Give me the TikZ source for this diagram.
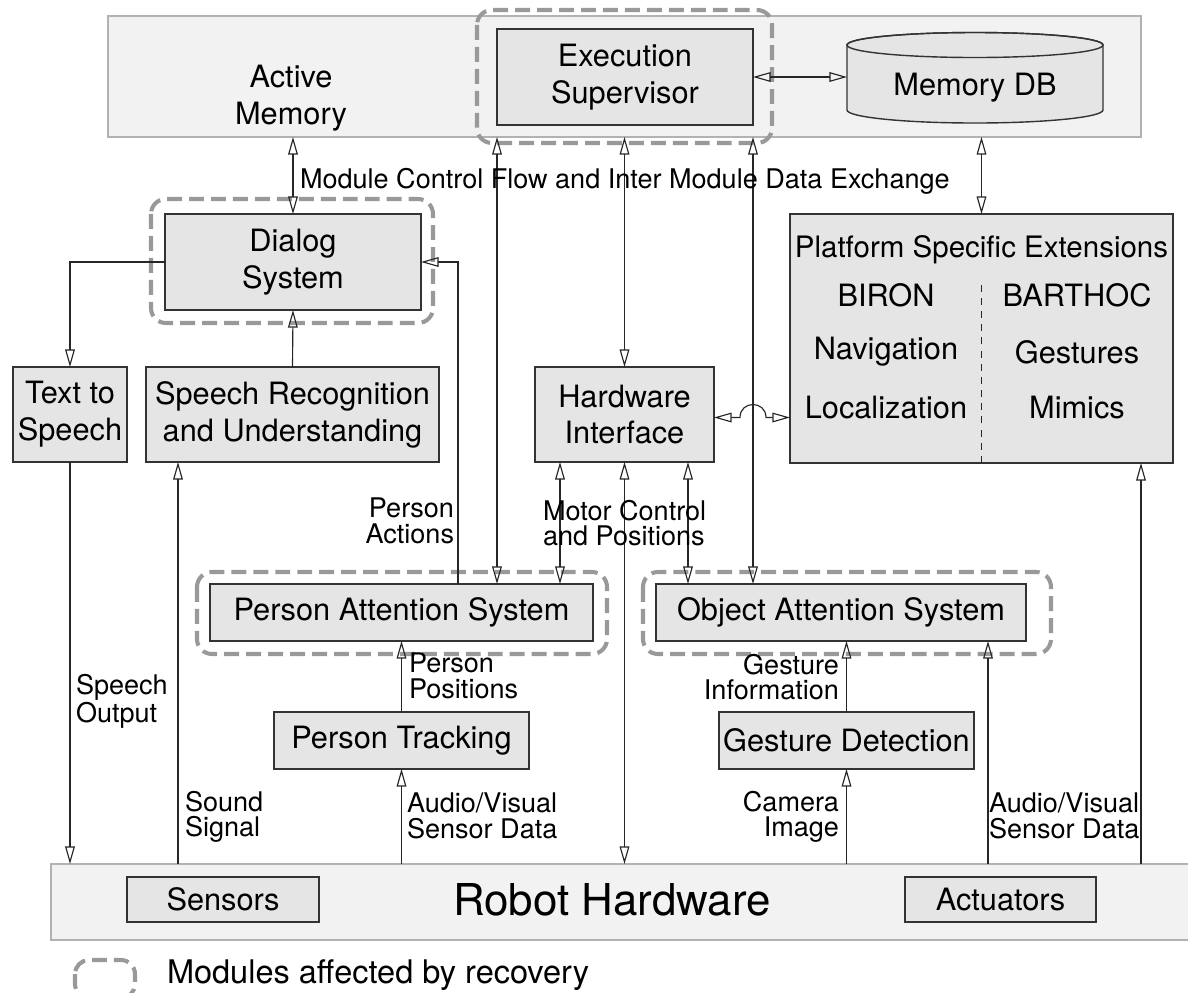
\documentclass[tikz,border=0pt]{standalone}
\usepackage{fontspec}
\setmainfont{TeX Gyre Heros}
\usetikzlibrary{arrows.meta,calc}
\newdimen\pxu \pxu=0.02cm
\newcommand\mainfs{\fontsize{17.5}{21}\selectfont}
\newcommand\titlefs{\fontsize{16.8}{21}\selectfont}
\newcommand\lblfs{\fontsize{15.4}{14.6}\selectfont}
\newcommand\bigfs{\fontsize{25}{30}\selectfont}
\newcommand\legfs{\fontsize{18.5}{22}\selectfont}
\tikzset{
  every node/.style={inner sep=0pt, outer sep=0pt},
  mod/.style={draw=black!80, fill=black!10, line width=0.8pt, align=center, font=\mainfs},
  area/.style={draw=black!30, fill=black!5, line width=0.8pt},
  recov/.style={draw=black!40, line width=2.3pt, dash pattern=on 8.5pt off 4pt, rounded corners=8.5pt},
  conn/.style={draw=black!85, line width=0.65pt},
  lbl/.style={font=\lblfs, align=left},
  txt/.style={font=\mainfs, align=center},
  >={Triangle[open, length=10pt, width=5.5pt]}
}
\begin{document}
\begin{tikzpicture}[x=0.02cm, y=-0.02cm]
\useasboundingbox (0,0) rectangle (1188,992);

% Active memory area
\node[area, minimum width=1033\pxu, minimum height=121\pxu] (top) at (624.5,76.5) {};
\node[txt] (amem) at (291,98) {Active\\Memory};

% recovery frames
\draw[recov] (477,10) rectangle (772,143);
\draw[recov] (151,199) rectangle (433,323);
\draw[recov] (197,572) rectangle (607,654);
\draw[recov] (643,572) rectangle (1051,654);

% modules
\node[mod, minimum width=256\pxu, minimum height=96\pxu] (exec) at (625,77) {Execution\\Supervisor};

% memory database cylinder
\filldraw[draw=black!80, fill=black!10, line width=0.8pt]
  (847,45) -- (847,110)
  arc[start angle=180, end angle=360, x radius=128\pxu, y radius=13\pxu]
  -- (1103,45)
  arc[start angle=0, end angle=180, x radius=128\pxu, y radius=12.5\pxu] -- cycle;
\draw[draw=black!80, line width=0.8pt] (975,45) ellipse[x radius=128\pxu, y radius=12.5\pxu];
\node[font=\mainfs, minimum width=256\pxu, minimum height=80\pxu] (mdb) at (975,88) {Memory DB};

\node[mod, minimum width=256\pxu, minimum height=96\pxu] (dialog) at (293,262) {Dialog\\System};
\node[mod, minimum width=114\pxu, minimum height=95\pxu] (tts) at (70,414.5) {Text to\\Speech};
\node[mod, minimum width=293\pxu, minimum height=95\pxu] (srec) at (292.5,414.5) {Speech Recognition\\and Understanding};
\node[mod, minimum width=179\pxu, minimum height=95\pxu] (hwif) at (624.5,414.5) {Hardware\\Interface};

% platform specific extensions
\node[mod, minimum width=383\pxu, minimum height=249\pxu] (plat) at (981.5,338.5) {};
\node[font=\titlefs] at (981.5,250) {Platform Specific Extensions};
\node[txt] at (886,295) {BIRON};
\node[txt] at (1077,295) {BARTHOC};
\node[txt] at (886,352) {Navigation};
\node[txt] at (1077,352) {Gestures};
\node[txt] at (886,408) {Localization};
\node[txt] at (1077,408) {Mimics};
\draw[draw=black!85, line width=0.65pt, dash pattern=on 4pt off 3.5pt] (plat.south) -- ++(0,-178);

\node[mod, minimum width=383\pxu, minimum height=57\pxu] (pas) at (401.5,612.5) {Person Attention System};
\node[mod, minimum width=370\pxu, minimum height=57\pxu] (oas) at (841,612.5) {Object Attention System};
\node[mod, minimum width=255\pxu, minimum height=57\pxu] (ptrack) at (401.5,740.5) {Person Tracking};
\node[mod, minimum width=255\pxu, minimum height=57\pxu] (gd) at (846.5,740.5) {Gesture Detection};

% robot hardware
\node[area, minimum width=1149\pxu, minimum height=76\pxu] (rh) at (625.5,902) {};
\node[font=\bigfs] (rhtxt) at (612,900) {Robot Hardware};
\node[mod, minimum width=192\pxu, minimum height=45\pxu] (sens) at (223,899.5) {Sensors};
\node[mod, minimum width=191\pxu, minimum height=45\pxu] (act) at (1000.5,899.5) {Actuators};

% connectors to and from the active memory
\draw[conn,<->] (top.south -| dialog.north) -- (dialog.north);
\draw[conn,<->] (top.south -| exec.west) -- (pas.north -| exec.west);
\draw[conn,<->] (top.south -| hwif.north) -- (hwif.north);
\draw[conn,<->] (top.south -| exec.east) -- (oas.north -| exec.east);
\draw[conn,<->] (top.south -| plat.north) -- (plat.north);
\draw[conn,<->] (exec.east) -- (exec.east -| mdb.west);

% dialog connections
\draw[conn,->] ($(pas.north)+(56.5,0)$) |- (dialog.east);
\draw[conn,->] (dialog.west) -| (tts.north);
\draw[conn,->] (srec.north) -- (dialog.south);
\draw[conn,->] (tts.south) -- (tts.south |- rh.north);
\coordinate (snd) at ($(srec.south west)+(32,0)$);
\draw[conn,->] (snd |- rh.north) -- (snd);

% person branch
\draw[conn,->] (ptrack.south |- rh.north) -- (ptrack.south);
\draw[conn,->] (ptrack.north) -- (pas.south);

% hardware interface
\coordinate (mc1) at ($(hwif.south)+(-64.5,0)$);
\coordinate (mc2) at ($(hwif.south)+(63.5,0)$);
\draw[conn,<->] (mc1) -- (mc1 |- pas.north);
\draw[conn,<->] (mc2) -- (mc2 |- oas.north);
\draw[conn,<->] (hwif.south) -- (hwif.south |- rh.north);
\coordinate (hop) at ($(hwif.east -| exec.east)+(0,3)$);
\draw[conn,<->] ($(hwif.east)+(0,3)$) -- ($(hop)+(-13,0)$)
  .. controls ($(hop)+(-13,-17.3)$) and ($(hop)+(13,-17.3)$) .. ($(hop)+(13,0)$)
  -- (hop -| plat.west);

% object branch
\draw[conn,->] (gd.south |- rh.north) -- (gd.south);
\draw[conn,->] (gd.north) -- (gd.north |- oas.south);
\coordinate (av2) at ($(oas.south)+(147,0)$);
\draw[conn,->] (av2 |- rh.north) -- (av2);
\coordinate (pl) at ($(plat.south east)+(-32,0)$);
\draw[conn,->] (pl |- rh.north) -- (pl);

% connector labels
\node[lbl, anchor=west] at (300,181) {Module Control Flow and Inter Module Data Exchange};
\node[lbl, align=right, anchor=east] at (454,521) {Person\\Actions};
\node[lbl, anchor=west] at (543,523) {Motor Control\\and Positions};
\node[lbl, anchor=west] at (76,701) {Speech\\Output};
\node[lbl, anchor=west] at (409,676) {Person\\Positions};
\node[lbl, anchor=west] at (185,817) {Sound\\Signal};
\node[lbl, anchor=west] at (407,816) {Audio/Visual\\Sensor Data};
\node[lbl, align=right, anchor=east] at (839,677) {Gesture\\Information};
\node[lbl, align=right, anchor=east] at (839,817) {Camera\\Image};
\node[lbl, anchor=west] at (989,816) {Audio/Visual\\Sensor Data};

% legend
\draw[recov, rounded corners=14\pxu] (75,960) rectangle (135,998);
\node[font=\legfs, anchor=west] (leg) at (167,975) {Modules affected by recovery};
\end{tikzpicture}
\end{document}
